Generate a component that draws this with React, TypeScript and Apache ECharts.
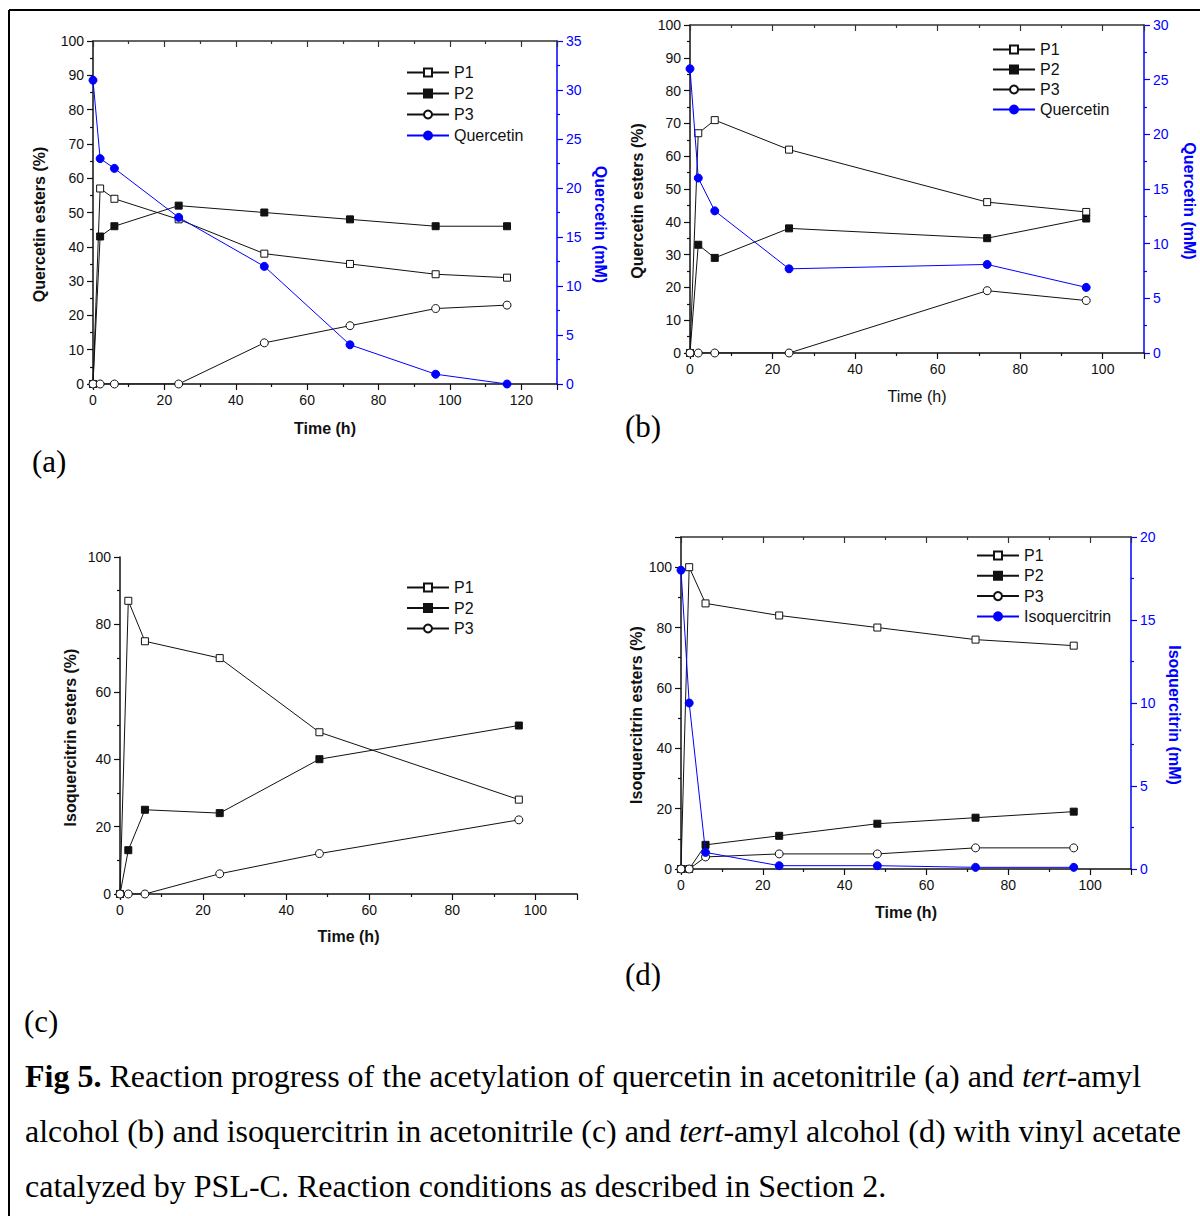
import React, { useEffect, useRef } from "react";
import * as echarts from "echarts";

// ---------- data: panel (a) quercetin in acetonitrile ----------
const timeA = [0, 2, 6, 24, 48, 72, 96, 116];
const p1A = [0, 57, 54, 48, 38, 35, 32, 31];
const p2A = [0, 43, 46, 52, 50, 48, 46, 46];
const p3A = [0, 0, 0, 0, 12, 17, 22, 23];
const quercetinA = [31, 23, 22, 17, 12, 4, 1, 0];

// ---------- data: panel (b) quercetin in tert-amyl alcohol ----------
const timeB = [0, 2, 6, 24, 72, 96];
const p1B = [0, 67, 71, 62, 46, 43];
const p2B = [0, 33, 29, 38, 35, 41];
const p3B = [0, 0, 0, 0, 19, 16];
const quercetinB = [26, 16, 13, 7.7, 8.1, 6];

// ---------- data: panel (c) isoquercitrin in acetonitrile ----------
const timeC = [0, 2, 6, 24, 48, 96];
const p1C = [0, 87, 75, 70, 48, 28];
const p2C = [0, 13, 25, 24, 40, 50];
const p3C = [0, 0, 0, 6, 12, 22];

// ---------- data: panel (d) isoquercitrin in tert-amyl alcohol ----------
const timeD = [0, 2, 6, 24, 48, 72, 96];
const p1D = [0, 100, 88, 84, 80, 76, 74];
const p2D = [0, 0, 8, 11, 15, 17, 19];
const p3D = [0, 0, 4, 5, 5, 7, 7];
const isoquercitrinD = [18, 10, 1, 0.2, 0.2, 0.1, 0.1];

const legendABD = ["P1", "P2", "P3"];
const captionLines = [
  "{b|Fig 5.} Reaction progress of the acetylation of quercetin in acetonitrile (a) and {i|tert}-amyl",
  "alcohol (b) and isoquercitrin in acetonitrile (c) and {i|tert}-amyl alcohol (d) with vinyl acetate",
  "catalyzed by PSL-C. Reaction conditions as described in Section 2.",
];
const panelLabels = ["(a)", "(b)", "(c)", "(d)"];

const FONT = "'Liberation Sans', Arial, Helvetica, sans-serif";
const SERIF = "'Liberation Serif', 'Times New Roman', Times, serif";
const INK = "#111111";
const BLUE = "#0000ff";
const CAP = 32;

const zip = (xs: number[], ys: number[]) => xs.map((x, i) => [x, ys[i]]);

type Kind = "openSq" | "fillSq" | "openCi" | "blue";
function ser(name: string, kind: Kind, xs: number[], ys: number[], xi: number, yi: number) {
  const isBlue = kind === "blue";
  const line = isBlue ? BLUE : INK;
  const fill = kind === "fillSq" ? INK : isBlue ? BLUE : "#ffffff";
  const symbol = kind === "openSq" || kind === "fillSq" ? "rect" : "circle";
  const size = kind === "openSq" || kind === "fillSq" ? 7 : 8;
  return {
    type: "line",
    name,
    xAxisIndex: xi,
    yAxisIndex: yi,
    data: zip(xs, ys),
    symbol,
    symbolSize: size,
    showAllSymbol: true,
    lineStyle: { color: line, width: 1 },
    itemStyle: { color: fill, borderColor: line, borderWidth: 1 },
    emphasis: { disabled: true },
    z: isBlue ? 3 : 2,
  };
}

function xBottom(gridIndex: number, max: number, name: string, bold: boolean, gap: number) {
  return {
    type: "value",
    gridIndex,
    position: "bottom",
    min: 0,
    max,
    interval: 20,
    name,
    nameLocation: "middle",
    nameGap: gap,
    nameTextStyle: { fontFamily: FONT, fontSize: 16, fontWeight: bold ? "bold" : "normal", color: INK },
    axisLine: { show: true, onZero: false, lineStyle: { color: INK, width: 1.5 } },
    axisTick: { show: true, inside: false, length: 6, lineStyle: { color: INK, width: 1.2 } },
    minorTick: { show: true, splitNumber: 2, length: 3, lineStyle: { color: INK, width: 1.2 } },
    axisLabel: {
      margin: 9,
      fontFamily: FONT,
      fontSize: 14,
      color: INK,
      formatter: (v: number) => (v % 20 === 0 ? String(v) : ""),
    },
    splitLine: { show: false },
    minorSplitLine: { show: false },
  };
}

function xTop(gridIndex: number, max: number) {
  return {
    type: "value",
    gridIndex,
    position: "top",
    min: 0,
    max,
    interval: 20,
    axisLine: { show: true, onZero: false, lineStyle: { color: "#333333", width: 1.5 } },
    axisTick: { show: true, inside: true, length: 6, lineStyle: { color: "#333333", width: 1.2 } },
    minorTick: { show: true, splitNumber: 2, length: 3, lineStyle: { color: "#333333", width: 1.2 } },
    axisLabel: { show: false },
    splitLine: { show: false },
    minorSplitLine: { show: false },
  };
}

function yAx(
  gridIndex: number,
  side: "left" | "right",
  max: number,
  interval: number,
  name: string,
  gap: number,
  color: string,
  labelStep: number
) {
  return {
    type: "value",
    gridIndex,
    position: side,
    min: 0,
    max,
    interval,
    name,
    nameLocation: "middle",
    nameGap: gap,
    nameRotate: side === "left" ? 90 : -90,
    nameTextStyle: {
      fontFamily: FONT,
      fontSize: 16,
      fontWeight: "bold",
      color,
      padding: side === "left" ? [0, 24, 0, 0] : [0, 0, 0, 24],
    },
    axisLine: { show: true, onZero: false, lineStyle: { color, width: 1.5 } },
    axisTick: { show: true, inside: false, length: 6, lineStyle: { color, width: 1.2 } },
    minorTick: { show: true, splitNumber: 2, length: 3, lineStyle: { color, width: 1.2 } },
    axisLabel: {
      margin: 9,
      fontFamily: FONT,
      fontSize: 14,
      color,
      formatter: (v: number) => (Math.abs(v % labelStep) < 1e-9 ? String(v) : ""),
    },
    splitLine: { show: false },
    minorSplitLine: { show: false },
  };
}

function legend(left: number, top: number, data: string[], gap: number) {
  return {
    left,
    top,
    orient: "vertical",
    data,
    padding: 0,
    itemWidth: 42,
    itemHeight: 10,
    itemGap: gap,
    selectedMode: false,
    textStyle: { fontFamily: FONT, fontSize: 16, color: INK, lineHeight: 17 },
  };
}

function buildOption() {
  const panelPos = [
    [32, 461],
    [625, 426],
    [24, 1021],
    [625, 974],
  ];
  const graphics: any[] = [
    { type: "line", shape: { x1: 9, y1: 10, x2: 9, y2: 1216 }, style: { stroke: "#000", lineWidth: 2 } },
    { type: "line", shape: { x1: 9, y1: 10, x2: 1200, y2: 10 }, style: { stroke: "#000", lineWidth: 2 } },
  ];
  panelLabels.forEach((t, i) => {
    graphics.push({
      type: "text",
      x: panelPos[i][0],
      y: panelPos[i][1],
      style: { text: t, fontFamily: SERIF, fontSize: 31, fill: "#000", align: "left", verticalAlign: "middle" },
    });
  });
  captionLines.forEach((t, i) => {
    graphics.push({
      type: "text",
      x: 25,
      y: 1076 + i * 55,
      style: {
        text: t,
        fontFamily: SERIF,
        fontSize: CAP,
        fill: "#000",
        align: "left",
        verticalAlign: "middle",
        rich: {
          b: { fontFamily: SERIF, fontSize: CAP, fontWeight: "bold", fill: "#000" },
          i: { fontFamily: SERIF, fontSize: CAP, fontStyle: "italic", fill: "#000" },
        },
      },
    });
  });

  return {
    animation: false,
    backgroundColor: "#ffffff",
    textStyle: { fontFamily: FONT },
    grid: [
      { left: 93, top: 41, width: 464, height: 343 },
      { left: 690, top: 25, width: 454, height: 328 },
      { left: 120, top: 557, width: 457, height: 337 },
      { left: 681, top: 537, width: 450, height: 332 },
    ],
    xAxis: [
      xBottom(0, 130, "Time (h)", true, 36),
      xTop(0, 130),
      xBottom(1, 110, "Time (h)", false, 35),
      xTop(1, 110),
      xBottom(2, 110, "Time (h)", true, 34),
      xBottom(3, 110, "Time (h)", true, 35),
      xTop(3, 110),
    ],
    yAxis: [
      yAx(0, "left", 100, 10, "Quercetin esters (%)", 46, INK, 10),
      yAx(0, "right", 35, 5, "Quercetin (mM)", 35, BLUE, 5),
      yAx(1, "left", 100, 10, "Quercetin esters (%)", 45, INK, 10),
      yAx(1, "right", 30, 5, "Quercetin (mM)", 37, BLUE, 5),
      yAx(2, "left", 100, 20, "Isoquercitrin esters (%)", 42, INK, 20),
      yAx(3, "left", 110, 20, "Isoquercitrin esters (%)", 36, INK, 20),
      yAx(3, "right", 20, 5, "Isoquercitrin (mM)", 35, BLUE, 5),
    ],
    legend: [
      legend(406, 64, [...legendABD, "Quercetin"], 4),
      legend(992, 41, [...legendABD, "Quercetin"], 3),
      legend(406, 579, legendABD, 3.5),
      legend(976, 547, [...legendABD, "Isoquercitrin"], 3.3),
    ],
    series: [
      ser("P1", "openSq", timeA, p1A, 0, 0),
      ser("P2", "fillSq", timeA, p2A, 0, 0),
      ser("P3", "openCi", timeA, p3A, 0, 0),
      ser("Quercetin", "blue", timeA, quercetinA, 0, 1),

      ser("P1", "openSq", timeB, p1B, 2, 2),
      ser("P2", "fillSq", timeB, p2B, 2, 2),
      ser("P3", "openCi", timeB, p3B, 2, 2),
      ser("Quercetin", "blue", timeB, quercetinB, 2, 3),

      ser("P1", "openSq", timeC, p1C, 4, 4),
      ser("P2", "fillSq", timeC, p2C, 4, 4),
      ser("P3", "openCi", timeC, p3C, 4, 4),

      ser("P1", "openSq", timeD, p1D, 5, 5),
      ser("P2", "fillSq", timeD, p2D, 5, 5),
      ser("P3", "openCi", timeD, p3D, 5, 5),
      ser("Isoquercitrin", "blue", timeD, isoquercitrinD, 5, 6),
    ],
    graphic: graphics,
  };
}

export default function App() {
  const ref = useRef<HTMLDivElement>(null);
  useEffect(() => {
    if (!ref.current) return;
    const chart = echarts.init(ref.current, undefined, { renderer: "svg" });
    chart.setOption(buildOption() as any);
    return () => chart.dispose();
  }, []);
  return (
    <div
      ref={ref}
      style={{ position: "absolute", left: 0, top: 0, width: 1200, height: 1216, background: "#fff" }}
    />
  );
}
